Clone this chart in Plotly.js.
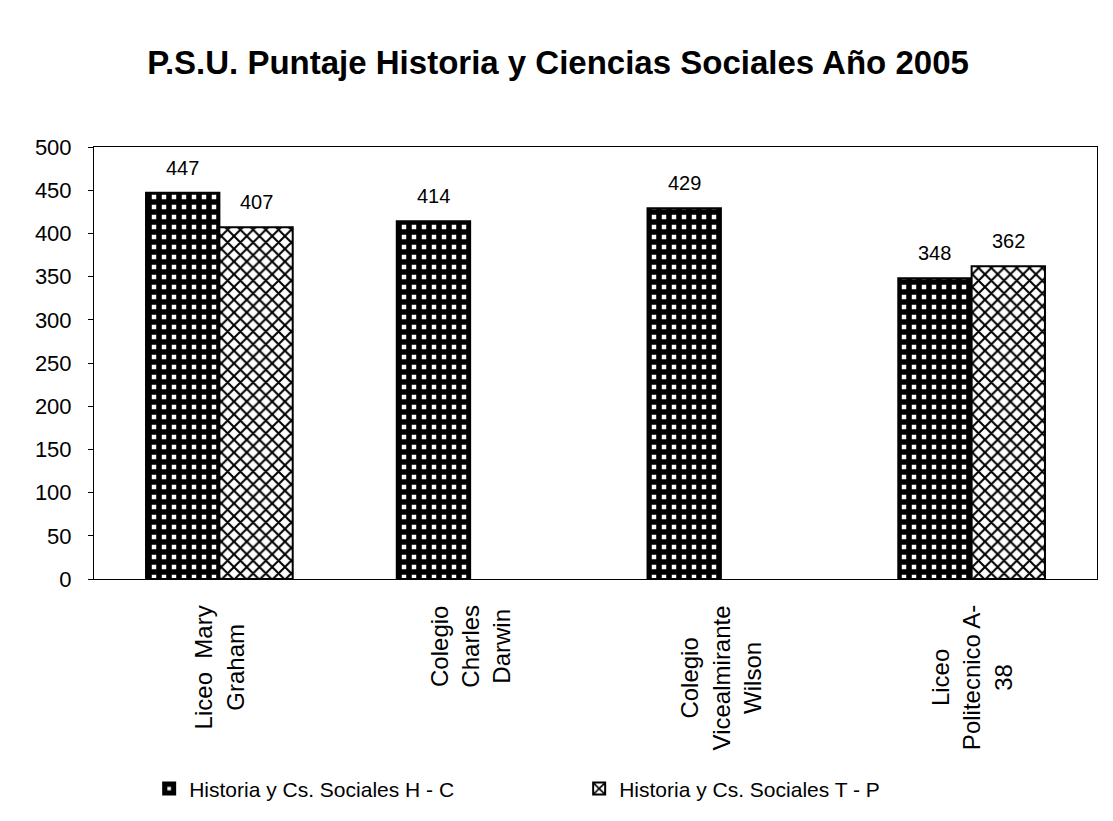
<!DOCTYPE html>
<html>
<head>
<meta charset="utf-8">
<script src="https://cdn.plot.ly/plotly-3.0.1.min.js"></script>
<style>html,body{margin:0;padding:0;background:#fff;}#chart{width:1113px;height:821px;}</style>
</head>
<body>
<div id="chart"></div>
<script>
const categories = ["Liceo Mary Graham", "Colegio Charles Darwin", "Colegio Vicealmirante Wilson", "Liceo Politecnico A-38"];
const categoryLabels = ["Liceo  Mary<br>Graham", "Colegio<br>Charles<br>Darwin", "Colegio<br>Vicealmirante<br>Wilson", "Liceo<br>Politecnico A-<br>38"];
const seriesHC = [447, 414, 429, 348];
const seriesTP = [407, null, null, 362];
const seriesNames = ["Historia y Cs. Sociales H - C", "Historia y Cs. Sociales T - P"];
const yTicks = [0, 50, 100, 150, 200, 250, 300, 350, 400, 450, 500];

const font = "Liberation Sans, Arial, sans-serif";
const W = 1113, H = 821;
const margin = {l: 94, r: 16, t: 147, b: 238};
const bargap = 0.415;
const plotW = W - margin.l - margin.r;
const barW = plotW / categories.length * (1 - bargap) / 2;

const traces = [
  {
    type: "bar", name: seriesNames[0], x: categories, y: seriesHC,
    marker: {color: "#000", line: {color: "#000", width: 2},
      pattern: {shape: "+", fgcolor: "#000", bgcolor: "#fff", size: 10, solidity: 0.8}}
  },
  {
    type: "bar", name: seriesNames[1], x: categories, y: seriesTP,
    marker: {color: "#fff", line: {color: "#000", width: 2},
      pattern: {shape: "x", fgcolor: "#000", bgcolor: "#fff", size: 9, solidity: 0.4}}
  }
];

const annotations = [];
[seriesHC, seriesTP].forEach((s, si) => {
  s.forEach((v, i) => {
    if (v == null) return;
    annotations.push({x: categories[i], y: v, xref: "x", yref: "y", text: String(v),
      showarrow: false, yanchor: "bottom", xanchor: "center",
      xshift: (si === 0 ? -1 : 1) * barW / 2, yshift: 12,
      font: {size: 20, family: font, color: "#000"}});
  });
});
categoryLabels.forEach((lab, i) => {
  annotations.push({x: categories[i], y: 0, xref: "x", yref: "y", text: lab,
    showarrow: false, textangle: -90, align: "center", yanchor: "top", xanchor: "center",
    yshift: -24, font: {size: 24, family: font, color: "#000"}});
});

const layout = {
  width: W, height: H,
  paper_bgcolor: "#fff", plot_bgcolor: "#fff",
  margin: margin,
  font: {family: font, color: "#000", size: 18},
  title: {text: "<b>P.S.U. Puntaje Historia y Ciencias Sociales Año 2005</b>",
    font: {size: 33, family: font, color: "#000"},
    x: (148 + 968) / 2 / W, xanchor: "center", xref: "container", y: 1 - 62/821, yref: "container", yanchor: "middle"},
  barmode: "group", bargap: bargap, bargroupgap: 0,
  showlegend: true,
  legend: {orientation: "h", x: 0.055, xanchor: "left", y: -0.486, yanchor: "middle",
    font: {size: 21, family: font}, entrywidth: 385, entrywidthmode: "pixels",
    itemwidth: 30, bgcolor: "rgba(0,0,0,0)"},
  annotations: annotations,
  xaxis: {showline: true, linecolor: "#000", linewidth: 1, mirror: true,
    showticklabels: false, ticks: "", showgrid: false},
  yaxis: {range: [0, 500], tickvals: yTicks, ticktext: yTicks.map(String),
    showline: true, linecolor: "#000", linewidth: 1, mirror: true,
    ticks: "outside", ticklen: 5, tickcolor: "#000", showgrid: false, zeroline: false,
    ticklabelstandoff: 12, tickfont: {size: 22, family: font}}
};
Plotly.newPlot("chart", traces, layout, {displayModeBar: false, staticPlot: true});
</script>
</body>
</html>
